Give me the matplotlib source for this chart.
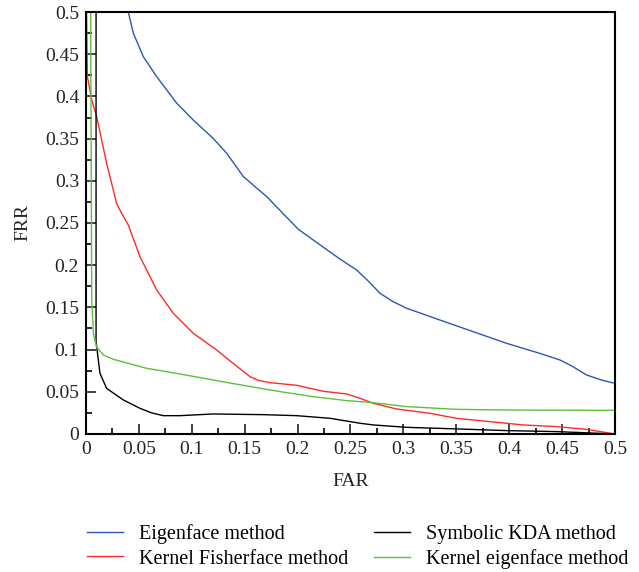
import matplotlib
matplotlib.use("Agg")
import matplotlib.pyplot as plt
from matplotlib.ticker import MultipleLocator, FuncFormatter

plt.rcParams['font.family'] = ['Liberation Serif', 'DejaVu Serif']

# Eigenface method
eig_far = [0.040, 0.0447, 0.0542, 0.0668, 0.0857, 0.1014, 0.1204, 0.133, 0.1487, 0.171,
           0.2007, 0.240, 0.2558, 0.267, 0.2779, 0.290, 0.303, 0.3346, 0.366, 0.3976,
           0.429, 0.448, 0.460, 0.473, 0.487, 0.500]
eig_frr = [0.500, 0.475, 0.447, 0.4234, 0.392, 0.372, 0.350, 0.3326, 0.305, 0.281,
           0.2425, 0.2073, 0.1943, 0.181, 0.1667, 0.157, 0.149, 0.135, 0.1212, 0.1074,
           0.0955, 0.0877, 0.080, 0.070, 0.064, 0.060]

# Kernel Fisherface method
kf_far = [0.0005, 0.0013, 0.0054, 0.0101, 0.0195, 0.029, 0.0337, 0.040, 0.051, 0.0668,
          0.0825, 0.1014, 0.1235, 0.139, 0.155, 0.163, 0.174, 0.199, 0.2243, 0.2464,
          0.259, 0.2716, 0.2936, 0.325, 0.350, 0.382, 0.4133, 0.445, 0.473, 0.500]
kf_frr = [0.500, 0.4234, 0.396, 0.376, 0.3207, 0.273, 0.2614, 0.2476, 0.2101, 0.1706,
          0.143, 0.1193, 0.0995, 0.0837, 0.0679, 0.0635, 0.0608, 0.0577, 0.0506, 0.0474,
          0.0423, 0.0363, 0.0296, 0.0245, 0.0186, 0.0146, 0.0107, 0.0087, 0.0055, 0.0]

# Symbolic KDA method
kda_far = [0.0095, 0.0095, 0.0101, 0.0132, 0.0195, 0.0353, 0.051, 0.062, 0.073, 0.0888,
           0.120, 0.1676, 0.199, 0.2306, 0.259, 0.2716, 0.303, 0.350, 0.3976, 0.445, 0.500]
kda_frr = [0.500, 0.110, 0.1034, 0.0719, 0.054, 0.0403, 0.0304, 0.025, 0.0217, 0.0217,
           0.0237, 0.0229, 0.0217, 0.0186, 0.0127, 0.0107, 0.0079, 0.006, 0.004, 0.0028, 0.0]

# Kernel eigenface method
ke_far = [0.0044, 0.0054, 0.007, 0.010, 0.0164, 0.0258, 0.0573, 0.0888, 0.120, 0.1518,
          0.1834, 0.2149, 0.2464, 0.2716, 0.303, 0.350, 0.3976, 0.500]
ke_frr = [0.500, 0.159, 0.119, 0.103, 0.0936, 0.0885, 0.0778, 0.0711, 0.064, 0.0569,
          0.0502, 0.0442, 0.0395, 0.0371, 0.0324, 0.0292, 0.0284, 0.028]

labels = ["Eigenface method", "Kernel Fisherface method",
          "Symbolic KDA method", "Kernel eigenface method"]
colors = ["#2f55b4", "#ff2a2a", "#000000", "#5cc03c"]

fig = plt.figure(figsize=(6.39, 5.72), dpi=100)
ax = fig.add_axes([0.1346, 0.2413, 0.8278, 0.7377])

lw = 1.0
l1, = ax.plot(eig_far, eig_frr, color=colors[0], lw=lw)
l2, = ax.plot(kf_far, kf_frr, color=colors[1], lw=lw)
l3, = ax.plot(kda_far, kda_frr, color=colors[2], lw=lw)
l4, = ax.plot(ke_far, ke_frr, color=colors[3], lw=lw)

ax.set_xlim(0, 0.5)
ax.set_ylim(0, 0.5)
ax.xaxis.set_major_locator(MultipleLocator(0.05))
ax.yaxis.set_major_locator(MultipleLocator(0.05))
ax.xaxis.set_minor_locator(MultipleLocator(0.025))
ax.yaxis.set_minor_locator(MultipleLocator(0.025))
fmt = FuncFormatter(lambda v, p: "%g" % round(v, 3))
ax.xaxis.set_major_formatter(fmt)
ax.yaxis.set_major_formatter(fmt)

ax.tick_params(which='major', direction='in', length=7, width=1.2, labelsize=14,
               top=False, right=False, pad=5, colors='#222222')
ax.tick_params(which='minor', direction='in', length=4.5, width=1.2,
               top=False, right=False)
for s in ax.spines.values():
    s.set_linewidth(1.5)

ax.set_xlabel("FAR", fontsize=14, labelpad=11, color='#222222')
ax.set_ylabel("FRR", fontsize=14, labelpad=10, color='#222222')

fig.legend([l1, l2, l3, l4], labels, ncol=2, loc='lower left',
           bbox_to_anchor=(0.108, -0.027), frameon=False, fontsize=14.5,
           handlelength=1.8, handletextpad=0.8, columnspacing=1.25,
           labelspacing=0.28)

fig.savefig("out.png", dpi=100)
